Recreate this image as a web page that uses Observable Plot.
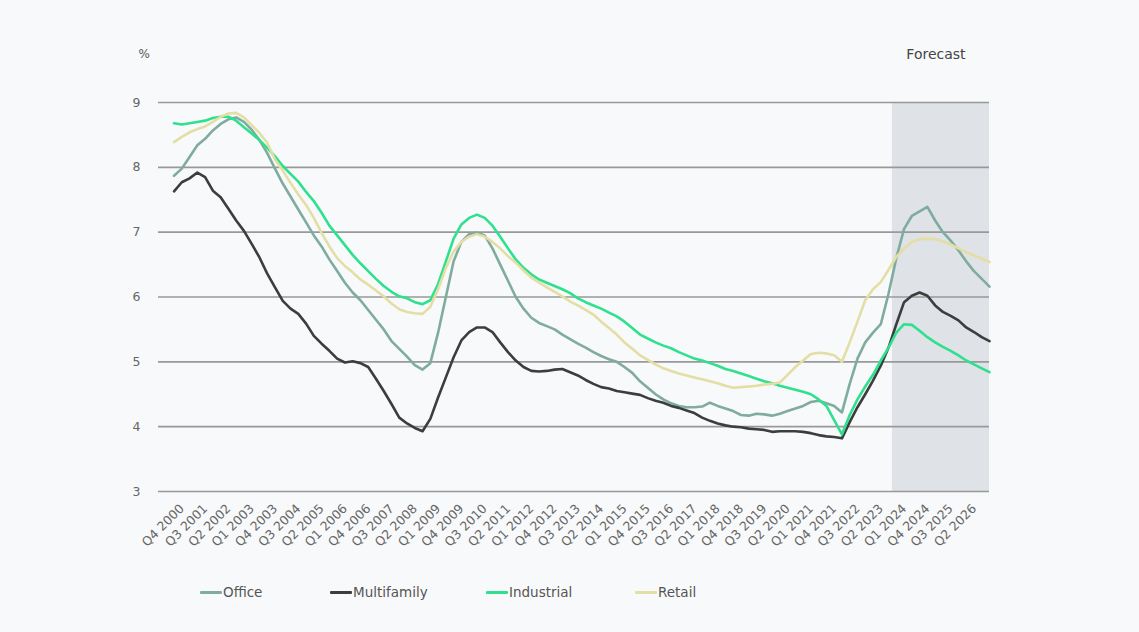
<!DOCTYPE html>
<html>
<head>
<meta charset="utf-8">
<script src="https://cdn.jsdelivr.net/npm/d3@7"></script>
<script src="https://cdn.jsdelivr.net/npm/@observablehq/plot@0.6"></script>
<style>
  html, body { margin: 0; padding: 0; background: #f8f9fa; }
  #wrap { position: relative; width: 1139px; height: 632px; overflow: hidden; font-family: "DejaVu Sans", sans-serif; }
  #chart { position: absolute; left: 0; top: 0; }
  .leg { position: absolute; top: 584px; display: flex; align-items: center; font-size: 13.5px; color: #555; }
  .leg .sw { width: 22px; height: 3px; border-radius: 1px; margin-right: 1px; }
</style>
</head>
<body>
<div id="wrap">
  <div id="chart"></div>
  <div id="legend"></div>
</div>
<script>
// ---- Data ----
const seriesNames = ["Office", "Multifamily", "Industrial", "Retail"];
const seriesColors = ["#7fac9f", "#3a3e3e", "#2fe08f", "#e3dea4"];

// Quarterly cap rates (%), Q4 2000 through Q1 2027
const office = [7.87, 7.98, 8.16, 8.34, 8.44, 8.57, 8.67, 8.74, 8.77, 8.70, 8.58, 8.42, 8.22,
  7.98, 7.75, 7.55, 7.35, 7.15, 6.95, 6.78, 6.58, 6.40, 6.22, 6.07, 5.95, 5.80, 5.65, 5.50, 5.32,
  5.20, 5.08, 4.95, 4.88, 4.98, 5.45, 6.00, 6.55, 6.85, 6.97, 6.99, 6.95, 6.75, 6.50, 6.25, 6.00,
  5.82, 5.68, 5.60, 5.55, 5.50, 5.42, 5.35, 5.28, 5.22, 5.15, 5.09, 5.04, 5.00, 4.92, 4.83,
  4.70, 4.60, 4.50, 4.42, 4.36, 4.32, 4.30, 4.30, 4.31, 4.37, 4.32, 4.28, 4.24, 4.18, 4.17,
  4.20, 4.19, 4.17, 4.20, 4.24, 4.28, 4.32, 4.38, 4.40, 4.36, 4.32, 4.22, 4.66, 5.05, 5.30,
  5.45, 5.58, 6.05, 6.60, 7.05, 7.25, 7.32, 7.39, 7.18, 7.00, 6.87, 6.72, 6.55, 6.40, 6.28, 6.16];
const multifamily = [7.63, 7.77, 7.83, 7.92, 7.85, 7.64, 7.54, 7.36, 7.18, 7.02, 6.82, 6.61, 6.36,
  6.15, 5.94, 5.82, 5.74, 5.59, 5.40, 5.28, 5.17, 5.05, 4.99, 5.01, 4.98, 4.92, 4.74, 4.55, 4.35,
  4.14, 4.05, 3.98, 3.93, 4.12, 4.45, 4.76, 5.07, 5.33, 5.46, 5.53, 5.53, 5.46, 5.30, 5.15, 5.02,
  4.92, 4.86, 4.85, 4.86, 4.88, 4.89, 4.84, 4.79, 4.72, 4.66, 4.61, 4.59, 4.55, 4.53, 4.51,
  4.49, 4.44, 4.40, 4.37, 4.32, 4.29, 4.25, 4.21, 4.14, 4.09, 4.05, 4.02, 4.00, 3.99, 3.97,
  3.96, 3.95, 3.92, 3.93, 3.93, 3.93, 3.92, 3.90, 3.87, 3.85, 3.84, 3.82, 4.07, 4.30, 4.50,
  4.71, 4.94, 5.22, 5.58, 5.92, 6.02, 6.07, 6.02, 5.87, 5.77, 5.71, 5.64, 5.53, 5.46, 5.38, 5.32];
const industrial = [8.68, 8.66, 8.68, 8.70, 8.72, 8.76, 8.78, 8.78, 8.72, 8.62, 8.52, 8.42, 8.30,
  8.17, 8.02, 7.90, 7.78, 7.62, 7.48, 7.30, 7.10, 6.95, 6.80, 6.65, 6.52, 6.40, 6.28, 6.17, 6.08,
  6.01, 5.98, 5.92, 5.89, 5.95, 6.20, 6.55, 6.90, 7.12, 7.22, 7.27, 7.22, 7.10, 6.93, 6.75, 6.58,
  6.45, 6.35, 6.27, 6.22, 6.17, 6.12, 6.06, 5.98, 5.92, 5.87, 5.82, 5.76, 5.70, 5.62, 5.52,
  5.42, 5.36, 5.30, 5.25, 5.21, 5.15, 5.10, 5.05, 5.02, 4.98, 4.94, 4.89, 4.86, 4.82, 4.78,
  4.74, 4.70, 4.67, 4.63, 4.60, 4.57, 4.54, 4.50, 4.42, 4.32, 4.10, 3.88, 4.18, 4.42, 4.62,
  4.80, 5.02, 5.22, 5.45, 5.58, 5.57, 5.48, 5.38, 5.30, 5.23, 5.17, 5.10, 5.02, 4.96, 4.90, 4.84];
const retail = [8.39, 8.47, 8.54, 8.59, 8.63, 8.70, 8.78, 8.83, 8.84, 8.77, 8.65, 8.53, 8.38,
  8.12, 7.95, 7.76, 7.58, 7.42, 7.22, 6.99, 6.78, 6.60, 6.48, 6.38, 6.27, 6.19, 6.10, 6.01, 5.90,
  5.81, 5.77, 5.75, 5.74, 5.85, 6.12, 6.45, 6.70, 6.85, 6.93, 6.97, 6.93, 6.85, 6.75, 6.63, 6.53,
  6.41, 6.30, 6.22, 6.15, 6.08, 6.01, 5.93, 5.87, 5.80, 5.73, 5.62, 5.52, 5.42, 5.30, 5.20,
  5.10, 5.03, 4.96, 4.90, 4.86, 4.82, 4.79, 4.76, 4.73, 4.70, 4.67, 4.63, 4.60, 4.61, 4.62,
  4.63, 4.65, 4.66, 4.68, 4.80, 4.92, 5.02, 5.12, 5.14, 5.13, 5.10, 5.00, 5.30, 5.62, 5.95,
  6.12, 6.23, 6.42, 6.62, 6.75, 6.85, 6.89, 6.90, 6.89, 6.86, 6.81, 6.75, 6.69, 6.64, 6.59, 6.54];
const seriesValues = [office, multifamily, industrial, retail];

// x-axis tick labels (every third quarter)
const tickLabels = ["Q4 2000", "Q3 2001", "Q2 2002", "Q1 2003", "Q4 2003", "Q3 2004", "Q2 2005",
  "Q1 2006", "Q4 2006", "Q3 2007", "Q2 2008", "Q1 2009", "Q4 2009", "Q3 2010", "Q2 2011",
  "Q1 2012", "Q4 2012", "Q3 2013", "Q2 2014", "Q1 2015", "Q4 2015", "Q3 2016", "Q2 2017",
  "Q1 2018", "Q4 2018", "Q3 2019", "Q2 2020", "Q1 2021", "Q4 2021", "Q3 2022", "Q2 2023",
  "Q1 2024", "Q4 2024", "Q3 2025", "Q2 2026"];
const tickStep = 3; // quarters between labels
const yTicks = [3, 4, 5, 6, 7, 8, 9];
const forecastStart = 92.5; // between Q4 2023 and Q1 2024 (quarter index)
const forecastLabel = "Forecast";
const yUnit = "%";

// ---- Build table ----
const nQ = office.length;
const rows = [];
seriesNames.forEach((name, s) => seriesValues[s].forEach((v, i) => rows.push({i, series: name, value: v})));
const tickIdx = tickLabels.map((_, k) => k * tickStep);
const labelOf = new Map(tickIdx.map((t, k) => [t, tickLabels[k]]));
const forecast = [{start: forecastStart, end: nQ - 1}];

const chart = Plot.plot({
  width: 1139,
  height: 570,
  marginLeft: 158,
  marginRight: 150,
  marginTop: 102,
  marginBottom: 79,
  style: {background: "transparent", fontFamily: "'DejaVu Sans', sans-serif"},
  x: {domain: [-2, nQ - 1], axis: null},
  y: {domain: [yTicks[0], yTicks[yTicks.length - 1]], axis: null},
  color: {domain: seriesNames, range: seriesColors},
  marks: [
    Plot.rect(forecast, {x1: "start", x2: "end", y1: () => yTicks[0], y2: () => yTicks[yTicks.length - 1], fill: "#dfe2e6"}),
    Plot.ruleY(yTicks, {stroke: "#999", strokeWidth: 1.6}),
    Plot.axisY({ticks: yTicks, tickFormat: d => String(d), label: null, tickSize: 0, tickPadding: 18, fontSize: 12.5, fill: "#666"}),
    Plot.axisX({ticks: tickIdx, tickFormat: d => labelOf.get(d), label: null, tickRotate: -45, tickSize: 0,
      tickPadding: 15, dx: 8, fontSize: 12.5, fill: "#666"}),
    Plot.lineY(rows, {x: "i", y: "value", stroke: "series", z: "series", strokeWidth: 2.6}),
    Plot.text([yUnit], {frameAnchor: "top-left", dx: -20, dy: -53, fontSize: 12, fill: "#555"}),
    Plot.text([forecastLabel], {x: () => (forecastStart + nQ - 1) / 2, frameAnchor: "top", dx: -5, dy: -53,
      fontSize: 14, fill: "#444"})
  ]
});
document.getElementById("chart").appendChild(chart);

// ---- Legend ----
const legendLeft = [200, 330, 486, 635];
const legend = document.getElementById("legend");
seriesNames.forEach((name, s) => {
  const item = document.createElement("div");
  item.className = "leg";
  item.style.left = legendLeft[s] + "px";
  const sw = document.createElement("span");
  sw.className = "sw";
  sw.style.background = seriesColors[s];
  const tx = document.createElement("span");
  tx.textContent = name;
  item.appendChild(sw);
  item.appendChild(tx);
  legend.appendChild(item);
});
</script>
</body>
</html>
